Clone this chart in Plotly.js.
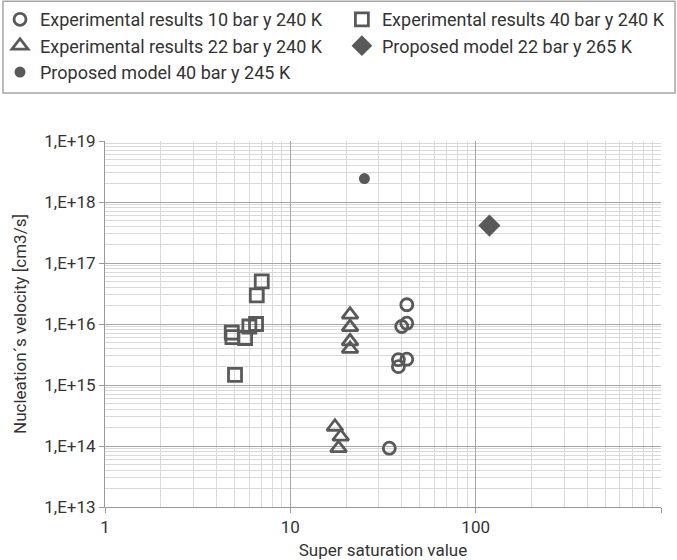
<!DOCTYPE html>
<html>
<head>
<meta charset="utf-8">
<script src="https://cdn.plot.ly/plotly-3.0.1.min.js"></script>
<style>html,body{margin:0;padding:0;background:#fff;}#chart{width:677px;height:560px;}</style>
</head>
<body>
<div id="chart"></div>
<script>
// Experimental results 10 bar y 240 K (open circles)
const exp10_x = [42.5, 39.9, 42.5, 38.3, 42.5, 38.3, 34.2];
const exp10_y = [2.07e16, 9.1e15, 1.03e16, 2.6e15, 2.65e15, 2.0e15, 9.2e13];
// Experimental results 40 bar y 240 K (open squares)
const exp40_x = [7.01, 6.59, 6.53, 6.01, 4.83, 4.87, 5.7, 5.03];
const exp40_y = [5.0e16, 2.94e16, 1.0e16, 9.1e15, 7.2e15, 6.1e15, 5.9e15, 1.47e15];
// Experimental results 22 bar y 240 K (open triangles)
const exp22_x = [21.0, 21.0, 21.0, 21.0, 17.4, 18.7, 18.2];
const exp22_y = [1.42e16, 8.9e15, 5.2e15, 3.9e15, 2.07e14, 1.42e14, 9.2e13];
// Proposed model 22 bar y 265 K (diamond)
const mod22_x = [118.6];
const mod22_y = [4.1e17];
// Proposed model 40 bar y 245 K (filled circle)
const mod40_x = [25.1];
const mod40_y = [2.42e18];

const yTickVals = [1e13, 1e14, 1e15, 1e16, 1e17, 1e18, 1e19];
const yTickText = ["1,E+13", "1,E+14", "1,E+15", "1,E+16", "1,E+17", "1,E+18", "1,E+19"];
const xTickVals = [1, 10, 100, 1000];
const xTickText = ["1", "10", "100", "1000"];

const names = [
  "Experimental results 10 bar y 240 K",
  "Experimental results 40 bar y 240 K",
  "Experimental results 22 bar y 240 K",
  "Proposed model 22 bar y 265 K",
  "Proposed model 40 bar y 245 K"
];
const xTitle = "Super saturation value";
const yTitle = "Nucleation´s velocity [cm3/s]";

const C = "#595959";
const FONT = "Roboto, 'DejaVu Sans Condensed', sans-serif";

const traces = [
  {x: exp10_x, y: exp10_y, name: names[0], type: "scatter", mode: "markers", legend: "legend", legendrank: 1,
   marker: {symbol: "circle-open", size: 12, color: C, line: {width: 2.8, color: C}}},
  {x: exp40_x, y: exp40_y, name: names[1], type: "scatter", mode: "markers", legend: "legend2", legendrank: 1,
   marker: {symbol: "square-open", size: 13, color: C, line: {width: 2.8, color: C}}},
  {x: exp22_x, y: exp22_y, name: names[2], type: "scatter", mode: "markers", legend: "legend", legendrank: 2,
   marker: {symbol: "triangle-up-open", size: 14, color: C, line: {width: 2.8, color: C}}},
  {x: mod22_x, y: mod22_y, name: names[3], type: "scatter", mode: "markers", legend: "legend2", legendrank: 2,
   marker: {symbol: "diamond", size: 17, color: C, line: {width: 0}}},
  {x: mod40_x, y: mod40_y, name: names[4], type: "scatter", mode: "markers", legend: "legend", legendrank: 3,
   marker: {symbol: "circle", size: 11, color: C, line: {width: 0}}}
];

const legendBase = {
  orientation: "v", xref: "container", yref: "container",
  xanchor: "left", yanchor: "top",
  bgcolor: "rgba(0,0,0,0)", borderwidth: 0,
  font: {family: FONT, size: 18, color: "#333"},
  tracegroupgap: 0, itemsizing: "trace"
};

const layout = {
  width: 677, height: 560,
  margin: {l: 105, r: 16, t: 141, b: 53, pad: 0, autoexpand: false},
  paper_bgcolor: "#fff", plot_bgcolor: "#fff",
  font: {family: FONT, size: 15, color: "#333"},
  showlegend: true,
  legend: Object.assign({}, legendBase, {x: 0.0, y: 0.998}),
  legend2: Object.assign({}, legendBase, {x: 0.505, y: 0.998}),
  shapes: [{
    type: "rect", xref: "paper", yref: "paper",
    x0: -0.1835, x1: 1.0252, y0: 1.131, y1: 1.382,
    line: {color: "#a6a6a6", width: 1.5}, fillcolor: "rgba(0,0,0,0)", layer: "above"
  }],
  annotations: [{
    text: yTitle, xref: "paper", yref: "paper", x: -0.153, y: 0.5,
    xanchor: "center", yanchor: "middle", textangle: -90, showarrow: false,
    font: {family: FONT, size: 17, color: "#333"}
  }],
  xaxis: {
    type: "log", range: [0, 3],
    tickvals: xTickVals, ticktext: xTickText,
    ticks: "outside", ticklen: 5, tickcolor: "#999",
    showline: true, linecolor: "#999", linewidth: 1,
    showgrid: true, gridcolor: "#a6a6a6", gridwidth: 1,
    minor: {dtick: "D1", showgrid: true, gridcolor: "#d9d9d9", gridwidth: 1, ticks: ""},
    zeroline: false,
    tickfont: {size: 17, color: "#333"},
    title: {text: xTitle, font: {size: 17, color: "#333"}, standoff: 8}
  },
  yaxis: {
    type: "log", range: [13, 19],
    tickvals: yTickVals, ticktext: yTickText,
    ticks: "outside", ticklen: 5, tickcolor: "#999",
    showline: true, linecolor: "#999", linewidth: 1,
    showgrid: true, gridcolor: "#a6a6a6", gridwidth: 1,
    minor: {dtick: "D1", showgrid: true, gridcolor: "#d9d9d9", gridwidth: 1, ticks: ""},
    zeroline: false,
    tickfont: {size: 17, color: "#333"}
  }
};

Plotly.newPlot("chart", traces, layout, {displayModeBar: false, staticPlot: true});
</script>
</body>
</html>
